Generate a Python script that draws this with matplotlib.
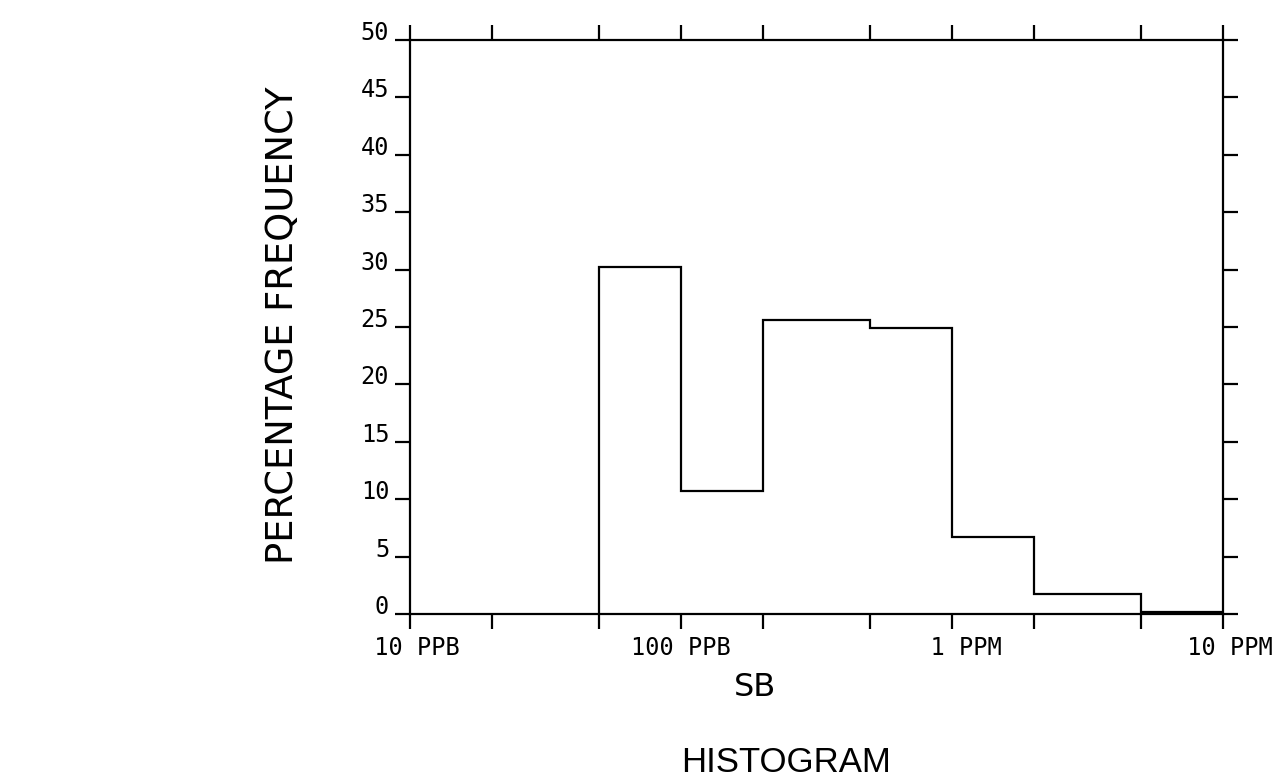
import matplotlib
matplotlib.use("Agg")
import matplotlib.pyplot as plt
from matplotlib.ticker import FixedLocator, NullFormatter

# Data
bin_edges_ppb = [50, 100, 200, 500, 1000, 2000, 5000, 10000]
percent_freq = [30.2, 10.7, 25.6, 24.9, 6.7, 1.7, 0.2]
major_ticks = [10, 100, 1000, 10000]
major_labels = [" 10 PPB", "100 PPB", "  1 PPM", " 10 PPM"]
minor_ticks = [20, 50, 200, 500, 2000, 5000]
y_ticks = [0, 5, 10, 15, 20, 25, 30, 35, 40, 45, 50]

W, H = 1278, 782
fig = plt.figure(figsize=(W / 100, H / 100), dpi=100)
ax = fig.add_axes([410 / W, 1 - 614 / H, (1223 - 410) / W, (614 - 40) / H])

ax.stairs(percent_freq, bin_edges_ppb, baseline=0, color="black", linewidth=1.6)

ax.set_xscale("log")
ax.set_xlim(10, 10000)
ax.set_ylim(0, 50)

ax.xaxis.set_major_locator(FixedLocator(major_ticks))
ax.set_xticklabels(major_labels)
ax.xaxis.set_minor_locator(FixedLocator(minor_ticks))
ax.xaxis.set_minor_formatter(NullFormatter())
ax.set_yticks(y_ticks)
ax.set_yticklabels([str(v) for v in y_ticks])

for sp in ax.spines.values():
    sp.set_linewidth(1.6)

ax.tick_params(axis="both", which="both", direction="out", length=11, width=1.6,
               colors="black", labelsize=17)
ax.tick_params(axis="x", which="both", top=True, labeltop=False, pad=5)
ax.tick_params(axis="y", which="both", right=True, labelright=False, pad=4)
for lab in ax.get_yticklabels() + ax.get_xticklabels():
    lab.set_family("DejaVu Sans Mono")
for lab in ax.get_yticklabels():
    lab.set_verticalalignment("baseline")

fig.text(283 / W, 1 - 325 / H, "PERCENTAGE FREQUENCY", rotation=90,
         ha="center", va="center", fontsize=26.5, color="black")
fig.text(755 / W, 1 - 688 / H, "SB", ha="center", va="center",
         fontsize=23, color="black")
fig.text(786 / W, 1 - 762 / H, "HISTOGRAM", ha="center", va="center",
         fontsize=25, color="black", family="Liberation Sans")

fig.savefig("out.png", dpi=100)
